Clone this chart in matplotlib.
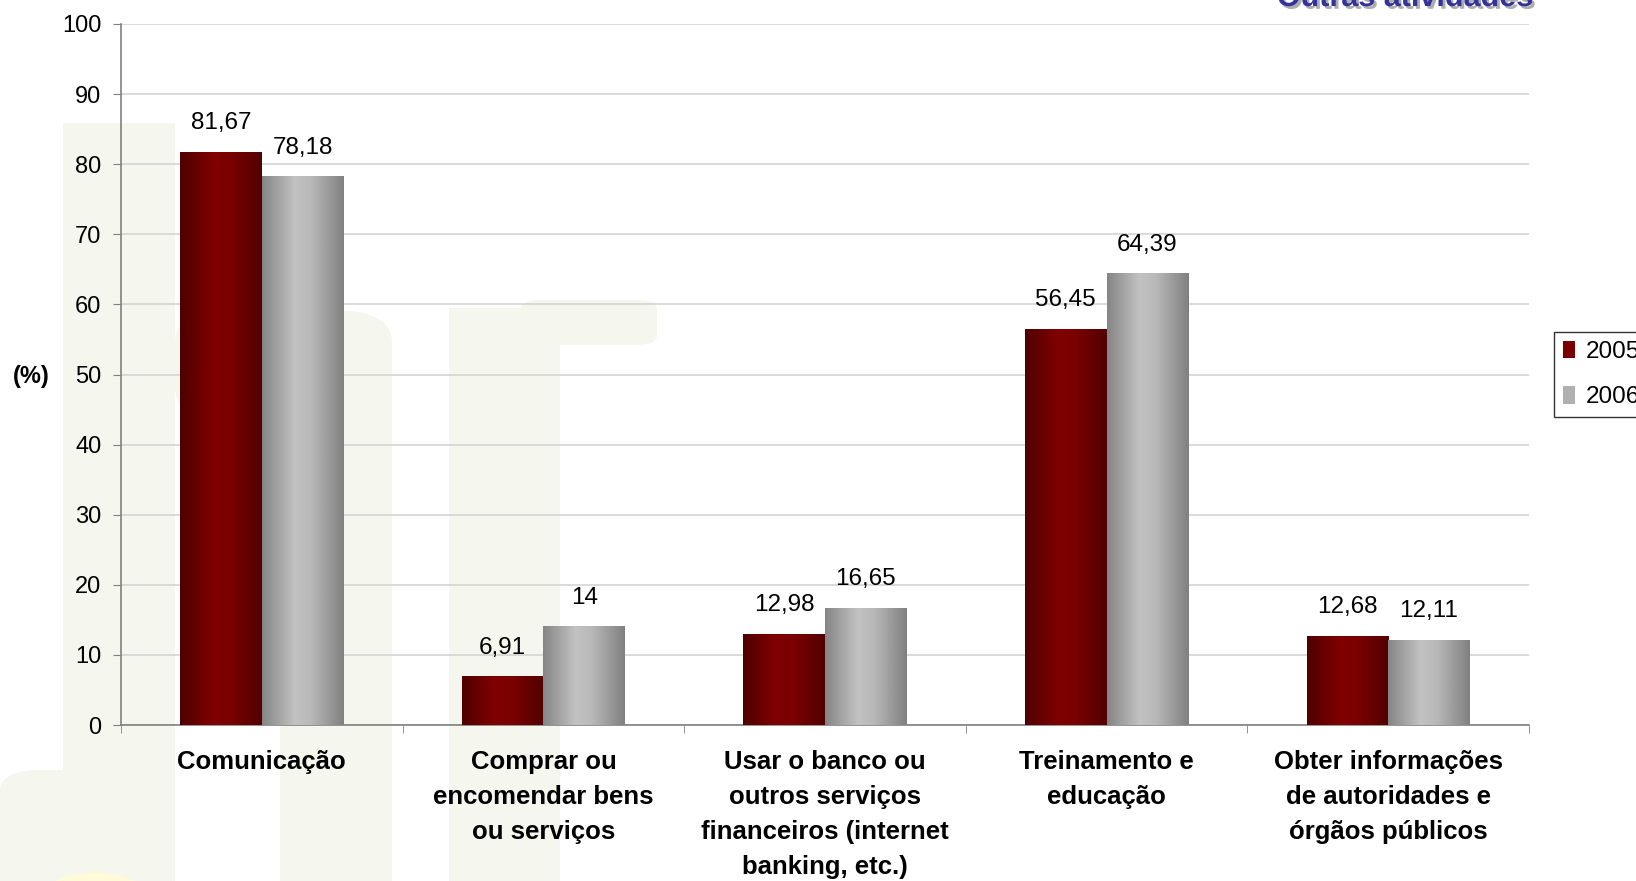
import numpy as np
import matplotlib.pyplot as plt
from matplotlib.patches import Rectangle, FancyBboxPatch, Patch, Circle
from matplotlib.colors import to_rgb
import matplotlib.patheffects as pe

plt.rcParams['font.family'] = ['Liberation Sans', 'DejaVu Sans']

categories = ['Comunicação',
              'Comprar ou\nencomendar bens\nou serviços',
              'Usar o banco ou\noutros serviços\nfinanceiros (internet\nbanking, etc.)',
              'Treinamento e\neducação',
              'Obter informações\nde autoridades e\nórgãos públicos']
years = ['2005', '2006']
v2005 = [81.67, 6.91, 12.98, 56.45, 12.68]
v2006 = [78.18, 14, 16.65, 64.39, 12.11]
lab2005 = ['81,67', '6,91', '12,98', '56,45', '12,68']
lab2006 = ['78,18', '14', '16,65', '64,39', '12,11']
yticks = [0, 10, 20, 30, 40, 50, 60, 70, 80, 90, 100]

W, H = 1636, 881
fig = plt.figure(figsize=(W / 100, H / 100), dpi=100)
fig.patch.set_facecolor('white')

# faint watermark in the background ("br" logo)
wm = '#f5f6ee'
def px_rect(x0, y0, x1, y1, color=wm, r=0):
    if r:
        p = FancyBboxPatch((x0 / W, 1 - y1 / H), (x1 - x0) / W, (y1 - y0) / H,
                           boxstyle='round,pad=0,rounding_size=%f' % (r / W),
                           transform=fig.transFigure, facecolor=color, edgecolor='none', zorder=-10)
    else:
        p = Rectangle((x0 / W, 1 - y1 / H), (x1 - x0) / W, (y1 - y0) / H,
                      transform=fig.transFigure, facecolor=color, edgecolor='none', zorder=-10)
    fig.add_artist(p)

px_rect(63, 123, 175, 900)
px_rect(175, 310, 392, 420, r=60)
px_rect(280, 380, 392, 900)
px_rect(449, 308, 560, 900)
px_rect(520, 300, 657, 345, r=20)
px_rect(0, 770, 120, 900, r=40)
fig.add_artist(Circle((95 / W, 1 - 905 / H), 60 / W, transform=fig.transFigure,
                      facecolor='#fffbd8', edgecolor='none', zorder=-9))

ax = fig.add_axes([121 / W, 1 - 725 / H, (1529 - 121) / W, (725 - 24) / H])
ax.patch.set_alpha(0)

x = np.arange(len(categories))
bw = 0.29
b1 = ax.bar(x - bw / 2, v2005, bw, color='none', zorder=3)
b2 = ax.bar(x + bw / 2, v2006, bw, color='none', zorder=3)

def gradient(stops):
    pos = np.linspace(0, 1, 256)
    cols = np.array([to_rgb(c) for _, c in stops])
    ps = [p for p, _ in stops]
    img = np.stack([np.interp(pos, ps, cols[:, k]) for k in range(3)], axis=-1)
    return img[np.newaxis, :, :]

red_grad = gradient([(0, '#4e0000'), (0.4, '#800000'), (0.6, '#7c0000'), (1, '#520000')])
gray_grad = gradient([(0, '#858585'), (0.4, '#c2c2c2'), (0.6, '#b8b8b8'), (1, '#808080')])

for bars, grad in ((b1, red_grad), (b2, gray_grad)):
    for b in bars:
        x0, y0 = b.get_x(), b.get_y()
        ax.imshow(grad, extent=(x0, x0 + b.get_width(), y0, y0 + b.get_height()),
                  aspect='auto', zorder=3, interpolation='bilinear')

for bars, labs in ((b1, lab2005), (b2, lab2006)):
    for b, t in zip(bars, labs):
        ax.annotate(t, (b.get_x() + b.get_width() / 2, b.get_height()),
                    xytext=(0, 13), textcoords='offset points', ha='center', va='bottom',
                    fontsize=17.5, color='black')

ax.set_xlim(-0.5, len(categories) - 0.5)
ax.set_ylim(0, 100)
ax.set_yticks(yticks)
ax.set_yticklabels([str(v) for v in yticks], fontsize=17)
ax.set_xticks(x)
ax.set_xticklabels(categories, fontsize=18.5, fontweight='bold', linespacing=1.58)
ax.set_xticks(np.arange(len(categories) + 1) - 0.5, minor=True)
ax.tick_params(axis='x', which='major', length=0, pad=18)
ax.tick_params(axis='x', which='minor', length=6, color='#808080', direction='out')
ax.tick_params(axis='y', length=6, color='#808080', pad=8)

ax.grid(axis='y', color='#d4d4d4', linewidth=1.2, zorder=0)
ax.set_axisbelow(True)
for s in ('top', 'right'):
    ax.spines[s].set_visible(False)
for s in ('left', 'bottom'):
    ax.spines[s].set_color('#808080')
    ax.spines[s].set_linewidth(1.2)

fig.text(13 / W, 1 - 376 / H, '(%)', fontsize=17, fontweight='bold', va='center', ha='left')

t = fig.text(1533 / W, 1 - 6 / H, 'Outras atividades', fontsize=22, fontweight='bold',
             color='#333399', ha='right', va='baseline')
t.set_path_effects([pe.withSimplePatchShadow(offset=(2, -2), shadow_rgbFace='#999999', alpha=0.8)])

handles = [Patch(facecolor='#7a0000', edgecolor='none'), Patch(facecolor='#b0b0b0', edgecolor='none')]
leg = fig.legend(handles, years, loc='upper left', bbox_to_anchor=(1554 / W, 1 - 332 / H),
                 fontsize=17.5, frameon=True, fancybox=False, handlelength=0.5, handleheight=0.75,
                 handletextpad=0.45, borderpad=0.35, labelspacing=0.95, borderaxespad=0)
leg.get_frame().set_edgecolor('black')
leg.get_frame().set_linewidth(1.0)

fig.savefig('out.png', dpi=100)
